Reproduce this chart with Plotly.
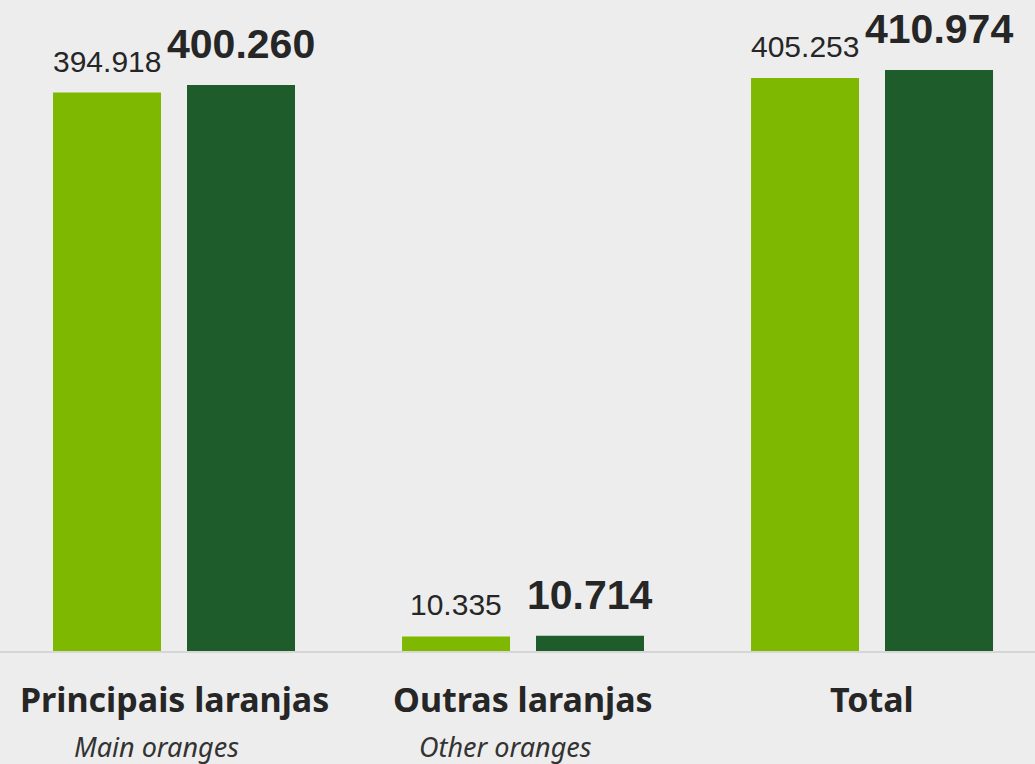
import plotly.graph_objects as go

categories = ["Principais laranjas", "Outras laranjas", "Total"]
subtitles = ["Main oranges", "Other oranges", ""]
values_prev = [394.918, 10.335, 405.253]
values_curr = [400.260, 10.714, 410.974]
labels_prev = ["394.918", "10.335", "405.253"]
labels_curr = ["400.260", "10.714", "410.974"]

LIGHT = "#7fb800"
DARK = "#1f5c2b"
BG = "#ededed"
TXT = "#262626"

BAR_W = 0.3095
OFF_PREV = -0.3467
OFF_CURR = 0.0372

xpos = list(range(len(categories)))

fig = go.Figure()
fig.add_trace(go.Bar(x=xpos, y=values_prev, width=BAR_W, offset=OFF_PREV,
                     marker=dict(color=LIGHT, line=dict(width=0)), showlegend=False,
                     hoverinfo="skip"))
fig.add_trace(go.Bar(x=xpos, y=values_curr, width=BAR_W, offset=OFF_CURR,
                     marker=dict(color=DARK, line=dict(width=0)), showlegend=False,
                     hoverinfo="skip"))

annotations = []
for i in xpos:
    annotations.append(dict(x=i + OFF_PREV + BAR_W / 2, y=values_prev[i], xref="x", yref="y",
                            text=labels_prev[i], showarrow=False, yanchor="bottom", yshift=13,
                            font=dict(family="Liberation Sans, Arial", size=30, color=TXT)))
    annotations.append(dict(x=i + OFF_CURR + BAR_W / 2, y=values_curr[i], xref="x", yref="y",
                            text="<b>" + labels_curr[i] + "</b>", showarrow=False, yanchor="bottom", yshift=16,
                            font=dict(family="Liberation Sans, Arial", size=41, color=TXT)))
    annotations.append(dict(x=i, y=0, xref="x", yref="paper",
                            text="<b>" + categories[i] + "</b>", showarrow=False, yanchor="middle", yshift=-48,
                            font=dict(family="Noto Sans", size=34, color=TXT)))
    if subtitles[i]:
        annotations.append(dict(x=i, y=0, xref="x", yref="paper",
                                text="<i>" + subtitles[i] + "</i>", showarrow=False, yanchor="middle",
                                yshift=-95, xshift=-18,
                                font=dict(family="Noto Sans", size=27, color="#333333")))

fig.update_layout(
    width=1035, height=764,
    margin=dict(l=0, r=0, t=0, b=113),
    paper_bgcolor=BG, plot_bgcolor=BG,
    barmode="overlay",
    xaxis=dict(range=[-0.4986, 2.467], showgrid=False, zeroline=False, showticklabels=False,
               ticks="", showline=True, linecolor="#d6d6d6", linewidth=2, fixedrange=True),
    yaxis=dict(range=[0, 460.4], showgrid=False, zeroline=False, showticklabels=False,
               ticks="", showline=False, fixedrange=True),
    annotations=annotations,
)

fig.write_html("out.html", config={"displayModeBar": False},
               post_script="document.body.style.margin='0';document.body.style.background='%s';" % BG)
